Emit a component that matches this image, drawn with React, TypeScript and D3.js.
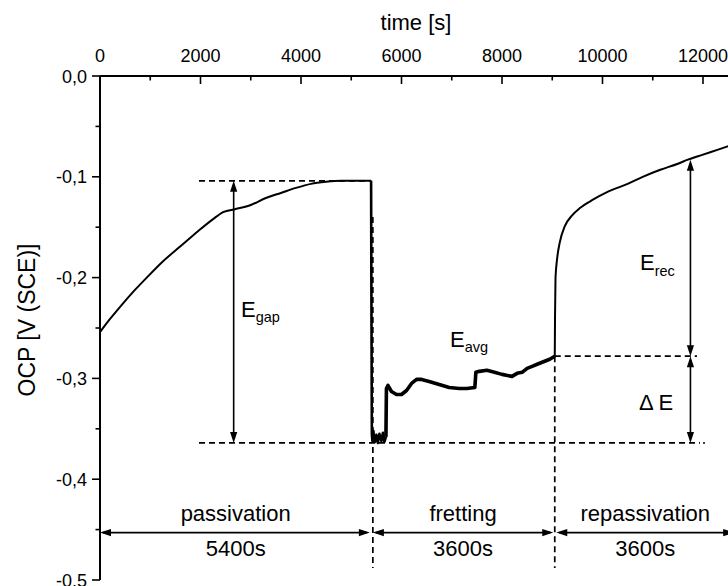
import React from "react";
import * as d3 from "d3";

// ---- data ----
const xTicks = [0, 2000, 4000, 6000, 8000, 10000, 12000];
const yTicks = [0, -0.1, -0.2, -0.3, -0.4, -0.5];

// passivation phase (t [s], OCP [V])
const passivation: [number, number][] = [
  [0, -0.254], [200, -0.241], [400, -0.229], [700, -0.212], [930, -0.2],
  [1250, -0.184], [1600, -0.169], [1950, -0.154], [2250, -0.142], [2450, -0.135],
  [2700, -0.132], [3000, -0.128], [3300, -0.121], [3600, -0.116], [3900, -0.111],
  [4200, -0.107], [4500, -0.105], [4800, -0.104], [5395, -0.104],
];

// drop at start of fretting
const drop: [number, number][] = [
  [5395, -0.104], [5400, -0.2], [5410, -0.355], [5420, -0.362],
  [5440, -0.352], [5470, -0.363], [5500, -0.356], [5530, -0.364], [5560, -0.355],
  [5600, -0.362], [5630, -0.354], [5660, -0.363], [5690, -0.358],
];

// fretting phase (noisy)
const fretting: [number, number][] = [
  [5690, -0.358], [5700, -0.31], [5730, -0.307], [5800, -0.313], [5900, -0.316],
  [6000, -0.316], [6100, -0.312], [6200, -0.305], [6300, -0.301], [6400, -0.301],
  [6550, -0.303], [6750, -0.306], [6950, -0.309], [7150, -0.31], [7300, -0.31],
  [7460, -0.309], [7480, -0.294], [7550, -0.293], [7700, -0.292], [7850, -0.294],
  [8000, -0.296], [8200, -0.298], [8300, -0.295], [8400, -0.294], [8500, -0.29],
  [8600, -0.288], [8700, -0.286], [8850, -0.283], [8950, -0.281], [9050, -0.278],
];

// repassivation phase
const repassivation: [number, number][] = [
  [9050, -0.278], [9055, -0.24], [9065, -0.2], [9100, -0.18], [9150, -0.165],
  [9250, -0.149], [9400, -0.138], [9550, -0.131], [9800, -0.123], [10100, -0.115],
  [10500, -0.107], [10800, -0.1], [11150, -0.093], [11500, -0.087], [11700, -0.083],
  [12000, -0.078], [12300, -0.073], [12600, -0.068],
];

// phase boundaries and labels
const phaseStarts = [0, 5400, 9050];
const phaseEnds = [5400, 9050, 12650];
const phaseNames = ["passivation", "fretting", "repassivation"];
const phaseDurations = ["5400s", "3600s", "3600s"];

// annotation levels
const levelTop = -0.104;
const levelBottom = -0.364;
const levelMid = -0.278;
const levelRecTop = -0.083;
const tGapArrow = 2660;
const tRecArrow = 11750;
const tDashStart = 1970;
const tDashEnd = 11940;
const tMidDashEnd = 11880;
const phaseArrowLevel = -0.453;

const W = 728;
const H = 586;

export default function App() {
  const x = d3.scaleLinear().domain([0, 12000]).range([100, 703]);
  const y = d3.scaleLinear().domain([0, -0.5]).range([76, 580]);
  const smooth = d3
    .line<[number, number]>()
    .x((d) => x(d[0]))
    .y((d) => y(d[1]))
    .curve(d3.curveMonotoneX);
  const linear = d3
    .line<[number, number]>()
    .x((d) => x(d[0]))
    .y((d) => y(d[1]));

  const font = "'Liberation Sans', Arial, Helvetica, sans-serif";
  const fmt = (v: number) => d3.format(".1f")(v).replace(".", ",").replace("−", "-");
  const minorX = d3.range(1000, 13000, 2000);
  const minorY = d3.range(-0.05, -0.5, -0.1);

  const dash = "6,4";
  const headLen = 11;
  const headW = 3.6;

  const hArrowHead = (px: number, py: number, dir: 1 | -1) =>
    `M${px},${py} L${px - dir * headLen},${py - headW} L${px - dir * headLen},${py + headW} Z`;
  const vArrowHead = (px: number, py: number, dir: 1 | -1) =>
    `M${px},${py} L${px - headW},${py - dir * headLen} L${px + headW},${py - dir * headLen} Z`;

  const vArrow = (t: number, v1: number, v2: number, key: string) => {
    const px = x(t);
    const y1 = y(v1);
    const y2 = y(v2);
    return (
      <g key={key}>
        <line x1={px} x2={px} y1={y1 + 4} y2={y2 - 4} stroke="#000" strokeWidth={1.6} />
        <path d={vArrowHead(px, y1, -1)} fill="#000" />
        <path d={vArrowHead(px, y2, 1)} fill="#000" />
      </g>
    );
  };

  return (
    <svg
      width={W}
      height={H}
      style={{ position: "absolute", left: 0, top: 0, background: "#fff" }}
      fontFamily={font}
    >
      <rect x={0} y={0} width={W} height={H} fill="#fff" />

      {/* top axis */}
      <line x1={x(0)} x2={W} y1={y(0)} y2={y(0)} stroke="#000" strokeWidth={2.2} />
      {xTicks.map((t) => (
        <g key={"xt" + t}>
          <line x1={x(t)} x2={x(t)} y1={y(0)} y2={y(0) + 8} stroke="#000" strokeWidth={1.6} />
          <text x={x(t)} y={62} textAnchor="middle" fontSize={18}>
            {t}
          </text>
        </g>
      ))}
      {minorX.map((t) => (
        <line key={"xm" + t} x1={x(t)} x2={x(t)} y1={y(0)} y2={y(0) + 4.5} stroke="#000" strokeWidth={1.6} />
      ))}
      <text x={416} y={30} textAnchor="middle" fontSize={22}>
        time [s]
      </text>

      {/* left axis */}
      <line x1={x(0)} x2={x(0)} y1={y(0)} y2={y(-0.5)} stroke="#000" strokeWidth={2} />
      {yTicks.map((v) => (
        <g key={"yt" + v}>
          <line x1={x(0) - 8} x2={x(0)} y1={y(v)} y2={y(v)} stroke="#000" strokeWidth={1.6} />
          <text x={87} y={y(v) + 6.5} textAnchor="end" fontSize={18}>
            {fmt(v)}
          </text>
        </g>
      ))}
      {minorY.map((v) => (
        <line key={"ym" + v} x1={x(0) - 4.5} x2={x(0)} y1={y(v)} y2={y(v)} stroke="#000" strokeWidth={1.6} />
      ))}
      <text
        transform={`translate(35, 320) rotate(-90)`}
        textAnchor="middle"
        fontSize={23}
      >
        OCP [V (SCE)]
      </text>

      {/* dashed guide lines */}
      <g stroke="#000" strokeWidth={1.7} strokeDasharray={dash} fill="none">
        <line x1={x(tDashStart)} x2={x(5400)} y1={y(levelTop)} y2={y(levelTop)} />
        <line x1={x(tDashStart)} x2={x(tDashEnd)} y1={y(levelBottom)} y2={y(levelBottom)} />
        <line x1={x(phaseStarts[2])} x2={x(tMidDashEnd)} y1={y(levelMid)} y2={y(levelMid)} />
        <line x1={x(phaseStarts[1]) + 1.5} x2={x(phaseStarts[1]) + 1.5} y1={y(-0.14)} y2={568} />
        <line x1={x(phaseStarts[2])} x2={x(phaseStarts[2])} y1={y(levelMid)} y2={568} />
      </g>
      <circle cx={x(tDashEnd) + 4} cy={y(levelBottom)} r={1} fill="#000" />

      {/* OCP curve */}
      <g fill="none" stroke="#000" strokeLinejoin="round">
        <path d={smooth(passivation) || ""} strokeWidth={2} />
        <path d={linear(drop) || ""} strokeWidth={2.6} />
        <path d={linear(fretting) || ""} strokeWidth={3.6} />
        <path d={smooth(repassivation) || ""} strokeWidth={2} />
      </g>

      {/* vertical arrows */}
      {vArrow(tGapArrow, levelTop, levelBottom, "gap")}
      {vArrow(tRecArrow, levelRecTop, levelMid, "rec")}
      {vArrow(tRecArrow, levelMid, levelBottom, "de")}

      {/* annotation labels */}
      <text x={241} y={317} fontSize={22}>
        E<tspan fontSize={14.5} dy={5}>gap</tspan>
      </text>
      <text x={450} y={347} fontSize={22}>
        E<tspan fontSize={14.5} dy={5}>avg</tspan>
      </text>
      <text x={640} y={270} fontSize={22}>
        E<tspan fontSize={14.5} dy={6}>rec</tspan>
      </text>
      <text x={639} y={410} fontSize={22}>
        Δ E
      </text>

      {/* phase arrows */}
      {phaseStarts.map((s, i) => {
        const x1 = x(s) + (i === 0 ? 0 : 1.5);
        const x2 = x(phaseEnds[i]) - 1.5;
        const py = y(phaseArrowLevel);
        return (
          <g key={"ph" + i}>
            <line x1={x1 + 3} x2={x2 - 3} y1={py} y2={py} stroke="#000" strokeWidth={1.6} />
            <path d={hArrowHead(x1, py, -1)} fill="#000" />
            <path d={hArrowHead(x2, py, 1)} fill="#000" />
            <text x={(x(s) + x(phaseEnds[i])) / 2} y={521} textAnchor="middle" fontSize={22}>
              {phaseNames[i]}
            </text>
            <text x={(x(s) + x(phaseEnds[i])) / 2} y={556} textAnchor="middle" fontSize={22}>
              {phaseDurations[i]}
            </text>
          </g>
        );
      })}
    </svg>
  );
}
